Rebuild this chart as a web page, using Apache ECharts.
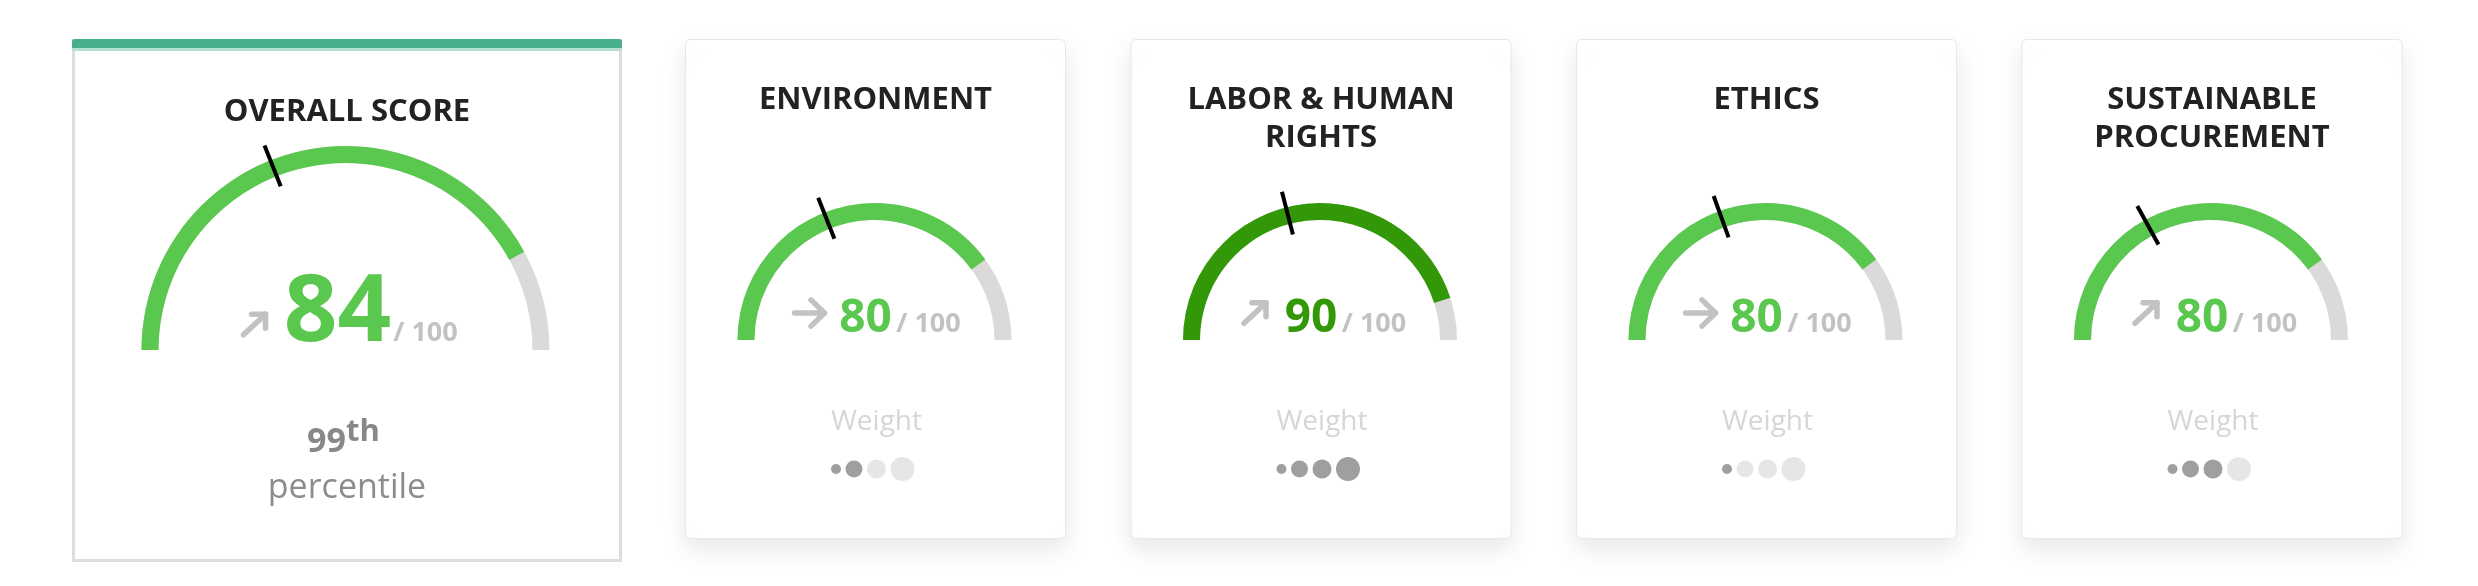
<!DOCTYPE html>
<html><head><meta charset="utf-8">
<script src="https://cdn.jsdelivr.net/npm/echarts@6/dist/echarts.min.js"></script>
<style>html,body{margin:0;padding:0;background:#fff;}#c{width:2478px;height:586px;}</style>
</head><body><div id="c"></div>
<script>
// ---- data ----
const categories = ['OVERALL SCORE', 'ENVIRONMENT', 'LABOR & HUMAN\nRIGHTS', 'ETHICS', 'SUSTAINABLE\nPROCUREMENT'];
const scores = [84, 80, 90, 80, 80];
const benchmarks = [38, 38, 42, 39, 34];
const trends = ['up', 'flat', 'up', 'flat', 'up'];
const maxScore = 100;
const overallPercentile = '99';
const percentileSuffix = 'th';
const percentileLabel = 'percentile';
const weightLabel = 'Weight';
const weights = [2, 4, 1, 3];          // for the four category cards
const weightLevels = [1, 2, 3, 4];

// ---- style / layout ----
const FONT = "'Open Sans', 'Noto Sans', sans-serif";
const GREEN = '#5ac84f', DARK = '#329808', TRACK = '#dbd9da';
const MUTED = '#c2c2c2', DOT_ON = '#878787', DOT_OFF = '#e0e0e0';
const dotSizes = [10, 17, 19, 24], dotGap = 4.5;
const overall = {x: 72, y: 39, w: 550, h: 523, cx: 345.5, cy: 350, r: 204};
const smallLefts = [685, 1130.5, 1576, 2021.5];
const smallW = 381, smallH = 500, smallTop = 39;
const smallCy = 340, smallR = 137, BAND = 17;

const colorFor = s => s >= 90 ? DARK : GREEN;

// distance from the 'middle' text line to the alphabetic baseline
const mctx = document.createElement('canvas').getContext('2d');
function baseOff(size, weight) {
  mctx.font = (weight || 'normal') + ' ' + size + 'px ' + FONT;
  mctx.textBaseline = 'middle';
  return mctx.measureText('H').actualBoundingBoxDescent;
}
// y of the middle line for a wanted baseline
const midFor = (baseline, size, weight) => baseline - baseOff(size, weight);

const series = [], graphic = [], grids = [], xAxes = [], yAxes = [];

function gauge(i, cx, cy, r, numSize, numX, maxX, baseline) {
  const color = colorFor(scores[i]);
  const common = {
    type: 'gauge', center: [cx, cy], radius: r, startAngle: 180, endAngle: 0,
    min: 0, max: maxScore, silent: true,
    splitLine: {show: false}, axisTick: {show: false}, axisLabel: {show: false},
    anchor: {show: false}, title: {show: false}
  };
  series.push(Object.assign({}, common, {
    z: 2,
    progress: {show: true, width: BAND, itemStyle: {color}},
    axisLine: {lineStyle: {width: BAND, color: [[1, TRACK]]}},
    pointer: {show: false},
    detail: {offsetCenter: [numX, midFor(baseline, numSize, 'bold') - cy], fontSize: numSize,
      fontWeight: 'bold', fontFamily: FONT, color, formatter: '{value}',
      width: 300, lineHeight: numSize, padding: 0},
    data: [{value: scores[i]}]
  }));
  series.push(Object.assign({}, common, {
    z: 4,
    progress: {show: false},
    axisLine: {show: false},
    pointer: {show: true, icon: 'rect', width: 4, length: 44, offsetCenter: [0, -(r - BAND - 11)],
      itemStyle: {color: '#000'}},
    detail: {offsetCenter: [maxX, midFor(baseline, 27, 'bold') - cy], fontSize: 27, fontWeight: 'bold',
      fontFamily: FONT, color: MUTED, formatter: () => '/ ' + maxScore,
      width: 200, lineHeight: 27, padding: 0},
    data: [{value: benchmarks[i]}]
  }));
}

function arrow(trend, x, y) {
  const st = {stroke: MUTED, lineWidth: 5.5, lineCap: 'round', lineJoin: 'round', fill: null};
  let children;
  if (trend === 'up') {
    children = [
      {type: 'line', shape: {x1: -11, y1: 10.3, x2: 11, y2: -10.3}, style: st},
      {type: 'polyline', shape: {points: [[-3, -10.3], [11, -10.3], [11, 3.7]]}, style: st}
    ];
  } else {
    children = [
      {type: 'line', shape: {x1: -15, y1: 0, x2: 15, y2: 0}, style: st},
      {type: 'polyline', shape: {points: [[1.5, -13.1], [15, 0], [1.5, 13.1]]}, style: st}
    ];
  }
  graphic.push({type: 'group', x, y, z: 10, silent: true, children});
}

function label(text, x, baseline, size, weight, fill, align) {
  graphic.push({type: 'text', z: 10, silent: true, x, y: midFor(baseline, size, weight),
    style: {text, fill, fontSize: size, fontWeight: weight || 'normal', fontFamily: FONT,
      align: align || 'center', verticalAlign: 'middle'}});
}
function title(text, x, baseline, size, lh) {
  graphic.push({type: 'text', z: 10, silent: true, x, y: midFor(baseline, size, 'bold') - lh / 2,
    style: {text, fill: '#222', fontSize: size, fontWeight: 'bold', fontFamily: FONT,
      align: 'center', verticalAlign: 'top', lineHeight: lh}});
}

// ---- overall card ----
graphic.push({type: 'rect', z: 0, silent: true,
  shape: {x: overall.x + 1.5, y: overall.y + 1.5, width: overall.w - 3, height: overall.h - 3},
  style: {fill: '#fff', stroke: '#dddddd', lineWidth: 3}});
graphic.push({type: 'rect', z: 1, silent: true,
  shape: {x: overall.x, y: overall.y + 9, width: overall.w, height: 3}, style: {fill: '#b5e0cf'}});
graphic.push({type: 'rect', z: 1, silent: true,
  shape: {x: overall.x, y: overall.y, width: overall.w, height: 9, r: [3, 3, 0, 0]}, style: {fill: '#47af8b'}});
title(categories[0], overall.x + overall.w / 2, 121, 31, 40);
gauge(0, overall.cx, overall.cy, overall.r, 94, -8, 80, 340.7);
arrow(trends[0], overall.cx - 91, overall.cy - 25.5);
label(overallPercentile, 346, 451.7, 34, 'bold', '#888', 'right');
label(percentileSuffix, 346, 440.7, 31, 'bold', '#888', 'left');
label(percentileLabel, 347, 498.3, 34, 'normal', '#8c8c8c', 'center');

// ---- category cards ----
smallLefts.forEach((L, k) => {
  const i = k + 1;
  const cx = L + 189.5;
  graphic.push({type: 'rect', z: 0, silent: true,
    shape: {x: L + 0.5, y: smallTop + 0.5, width: smallW - 1, height: smallH - 1, r: 5},
    style: {fill: '#fff', stroke: '#e8e8e8', lineWidth: 1,
      shadowBlur: 26, shadowOffsetY: 10, shadowColor: 'rgba(0,0,0,0.10)'}});
  title(categories[i], L + smallW / 2, 109.3, 31, 38);
  gauge(i, cx, smallCy, smallR, 46, -9, 54, 331.7);
  arrow(trends[i], cx - 65, smallCy - 27);
  label(weightLabel, cx + 2, 430, 28, 'normal', '#d6d6d6', 'center');
  // weight dots via scatter
  const gw = 84;
  grids.push({left: cx - 43.5, top: 459, width: gw, height: 20, containLabel: false});
  xAxes.push({gridIndex: k, type: 'value', min: 0, max: gw, show: false});
  yAxes.push({gridIndex: k, type: 'value', min: -1, max: 1, show: false});
  let pos = 0;
  const data = weightLevels.map((lvl, j) => {
    const s = dotSizes[j];
    const x = pos + s / 2;
    pos += s + dotGap;
    return {value: [x, 0], symbolSize: s,
      itemStyle: {color: lvl <= weights[k] ? DOT_ON : DOT_OFF}};
  });
  series.push({type: 'scatter', xAxisIndex: k, yAxisIndex: k, silent: true, z: 3,
    symbol: 'circle', data});
});

const chart = echarts.init(document.getElementById('c'), null, {renderer: 'canvas'});
chart.setOption({
  animation: false,
  backgroundColor: '#fff',
  grid: grids, xAxis: xAxes, yAxis: yAxes,
  graphic: {elements: graphic},
  series
});
</script></body></html>
